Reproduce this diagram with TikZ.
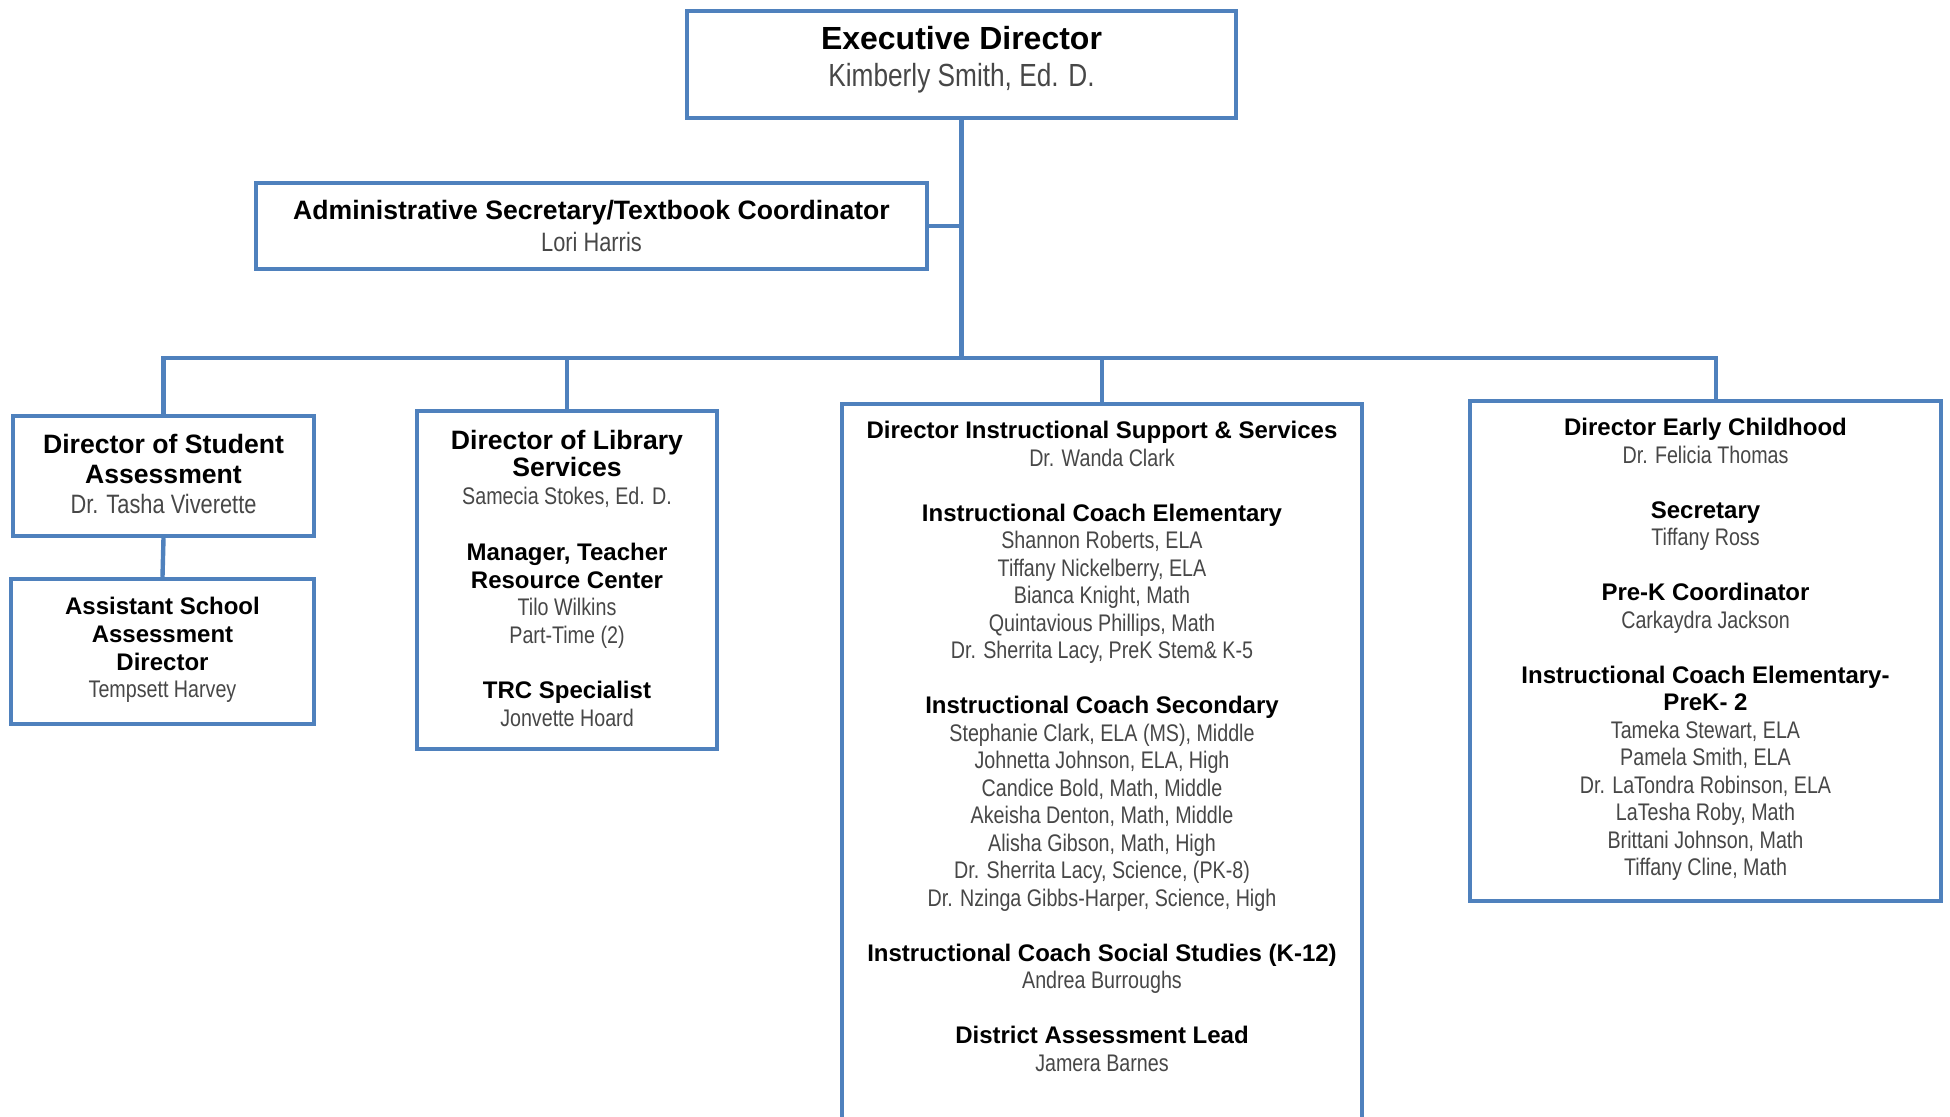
\documentclass[tikz,border=0pt]{standalone}
\usepackage{fontspec}
\setmainfont{Liberation Sans}
\newfontfamily\narrowfont{Liberation Sans}[FakeStretch=0.82]
\definecolor{chartblue}{RGB}{79,129,189}
\newcommand{\hd}[1]{\textbf{#1}}
\newcommand{\nm}[1]{{\narrowfont\color{black!72}#1}}

\begin{document}
\begin{tikzpicture}[x=0.5pt, y=-0.5pt,
    box/.style={draw=chartblue, fill=white, line width=2.2pt, inner sep=0pt},
    link/.style={draw=chartblue, line width=2.2pt},
    txt/.style={align=center, inner sep=0pt, anchor=north}]
    \useasboundingbox (0,0) rectangle (1950,1117);
    \clip (0,0) rectangle (1950,1117);

    % Boxes
    \node[box, minimum width=274.5pt, minimum height=53.5pt] (exec) at (961.5,64.5) {};
    \node[box, minimum width=335.5pt, minimum height=43pt] (admin) at (591.5,226) {};
    \node[box, minimum width=150.5pt, minimum height=60pt] (stud) at (163.5,476) {};
    \node[box, minimum width=151.5pt, minimum height=72.5pt] (asst) at (162.5,651.5) {};
    \node[box, minimum width=150pt, minimum height=169pt] (lib) at (567,580) {};
    \node[box, minimum width=260pt, minimum height=373pt] (iss) at (1102,777) {};
    \node[box, minimum width=235.5pt, minimum height=250pt] (early) at (1705.5,651) {};

    % Connectors
    \coordinate (bus) at (961.5,358);
    \coordinate (earlytop) at (1716,401);
    \draw[link] (exec.south) -- (bus);
    \draw[link] (admin.east) -- (admin.east -| exec.south);
    \draw[link] (stud.north) |- (bus) -| (earlytop);
    \draw[link] (lib.north) -- (lib.north |- bus);
    \draw[link] (iss.north) -- (iss.north |- bus);
    \draw[link] (stud.south) -- (asst.north);

    % Texts
    \node[txt, font=\fontsize{16}{18.5}\selectfont] (exectxt) at (961.5,26)
        {\hd{Executive Director}\\ \nm{Kimberly Smith, Ed. D.}};
    \node[txt, font=\fontsize{13.3}{16}\selectfont] (admintxt) at (591.5,200)
        {\hd{Administrative Secretary/Textbook Coordinator}\\ \nm{Lori Harris}};
    \node[txt, font=\fontsize{13.3}{15}\selectfont] (studtxt) at (163.5,434)
        {\hd{Director of Student}\\ \hd{Assessment}\\ \nm{Dr. Tasha Viverette}};
    \node[txt, font=\fontsize{12}{13.85}\selectfont] (assttxt) at (162.5,597)
        {\hd{Assistant School}\\ \hd{Assessment}\\ \hd{Director}\\ \nm{Tempsett Harvey}};
    \node[txt, font=\fontsize{12}{13.9}\selectfont] (libtxt) at (567,429.5)
        {{\fontsize{13.3}{14}\selectfont\hd{Director of Library}}\\
         {\fontsize{13.3}{14}\selectfont\hd{Services}}\\
         \nm{Samecia Stokes, Ed. D.}\\[13.9pt]
         \hd{Manager, Teacher}\\ \hd{Resource Center}\\
         \nm{Tilo Wilkins}\\ \nm{Part-Time (2)}\\[13.6pt]
         \hd{TRC Specialist}\\ \nm{Jonvette Hoard}};
    \node[txt, font=\fontsize{12}{13.75}\selectfont] (isstxt) at (1102,421)
        {\hd{Director Instructional Support \& Services}\\
         \nm{Dr. Wanda Clark}\\[13.75pt]
         \hd{Instructional Coach Elementary}\\
         \nm{Shannon Roberts, ELA}\\
         \nm{Tiffany Nickelberry, ELA}\\
         \nm{Bianca Knight, Math}\\
         \nm{Quintavious Phillips, Math}\\
         \nm{Dr. Sherrita Lacy, PreK Stem\& K-5}\\[13.75pt]
         \hd{Instructional Coach Secondary}\\
         \nm{Stephanie Clark, ELA (MS), Middle}\\
         \nm{Johnetta Johnson, ELA, High}\\
         \nm{Candice Bold, Math, Middle}\\
         \nm{Akeisha Denton, Math, Middle}\\
         \nm{Alisha Gibson, Math, High}\\
         \nm{Dr. Sherrita Lacy, Science, (PK-8)}\\
         \nm{Dr. Nzinga Gibbs-Harper, Science, High}\\[13.75pt]
         \hd{Instructional Coach Social Studies (K-12)}\\
         \nm{Andrea Burroughs}\\[13.75pt]
         \hd{District Assessment Lead}\\
         \nm{Jamera Barnes}};
    \node[txt, font=\fontsize{12}{13.75}\selectfont] (earlytxt) at (1705.5,418)
        {\hd{Director Early Childhood}\\
         \nm{Dr. Felicia Thomas}\\[13.75pt]
         \hd{Secretary}\\
         \nm{Tiffany Ross}\\[13.75pt]
         \hd{Pre-K Coordinator}\\
         \nm{Carkaydra Jackson}\\[13.75pt]
         \hd{Instructional Coach Elementary-}\\
         \hd{PreK- 2}\\
         \nm{Tameka Stewart, ELA}\\
         \nm{Pamela Smith, ELA}\\
         \nm{Dr. LaTondra Robinson, ELA}\\
         \nm{LaTesha Roby, Math}\\
         \nm{Brittani Johnson, Math}\\
         \nm{Tiffany Cline, Math}};
\end{tikzpicture}
\end{document}
